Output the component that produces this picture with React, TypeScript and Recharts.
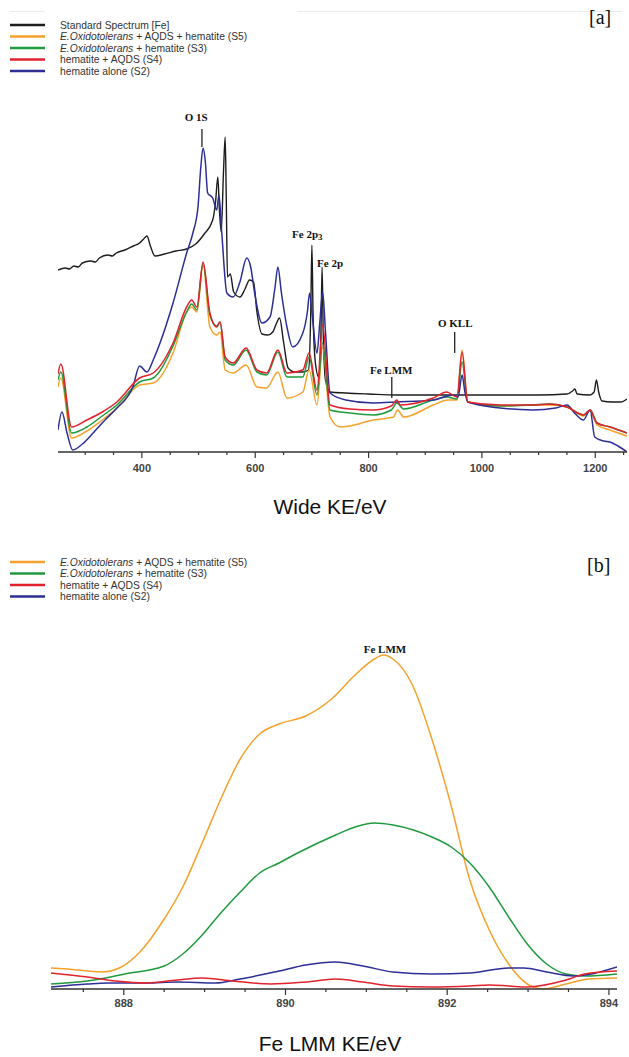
import { LineChart, Line, XAxis, YAxis, ReferenceLine, ReferenceDot } from "recharts";

// ---- panel [a]: wide scan, [KE eV, arbitrary units] ----
const wideStandard: [number, number][] = [
  [252, 182], [265, 184], [272, 183], [280, 186], [288, 185], [295, 189], [310, 191], [318, 190],
  [325, 194], [340, 197], [348, 196], [355, 199], [370, 202], [385, 206], [396, 209], [403, 213],
  [409, 216], [415, 206], [423, 196], [440, 198], [460, 201], [479, 203], [495, 208], [510, 218],
  [525, 232], [530, 250], [534, 275], [537, 240], [540, 220], [544, 280], [547, 315], [549, 250],
  [551, 175], [556, 178], [562, 160], [573, 155], [582, 163], [590, 172], [597, 170], [603, 140],
  [612, 118], [622, 117], [631, 120], [637, 128], [643, 134], [650, 110], [658, 84], [670, 80],
  [684, 80], [694, 82], [698, 140], [700, 207], [702, 140], [706, 90], [712, 75], [716, 120],
  [718, 185], [720, 120], [724, 72], [732, 60], [760, 59], [800, 58], [850, 57], [900, 57],
  [950, 57], [1000, 57], [1050, 57], [1100, 57], [1150, 58], [1160, 61], [1164, 63], [1168, 58],
  [1190, 57], [1198, 60], [1202, 72], [1206, 60], [1212, 51], [1230, 50], [1245, 50], [1256, 53],
];
const wideS5: [number, number][] = [
  [252, 65], [257, 74], [276, 14], [303, 21], [330, 32], [356, 44], [396, 67], [420, 69],
  [455, 99], [479, 140], [488, 145], [497, 140], [508, 187], [520, 125], [532, 117], [538, 120],
  [547, 82], [561, 79], [584, 87], [603, 65], [620, 64], [640, 80], [656, 54], [684, 60],
  [695, 82], [709, 47], [719, 105], [732, 35], [750, 25], [767, 26], [808, 32], [844, 35],
  [851, 42], [862, 35], [914, 47], [940, 52], [956, 52], [965, 102], [975, 50], [1032, 46],
  [1090, 47], [1120, 47], [1150, 45], [1179, 36], [1191, 41], [1203, 27], [1226, 22], [1256, 16],
];
const wideS3: [number, number][] = [
  [252, 72], [257, 80], [276, 19], [303, 25], [330, 36], [356, 47], [396, 70], [420, 74],
  [455, 106], [479, 140], [488, 148], [497, 142], [508, 189], [520, 137], [532, 126], [538, 130],
  [547, 92], [561, 87], [584, 102], [603, 80], [620, 77], [640, 100], [656, 75], [684, 75],
  [695, 95], [709, 57], [719, 109], [732, 42], [767, 39], [808, 37], [840, 42], [850, 49],
  [862, 43], [914, 52], [938, 55], [956, 53], [965, 90], [975, 50], [1032, 46], [1090, 47],
  [1120, 48], [1150, 45], [1179, 37], [1191, 42], [1203, 29], [1226, 25], [1256, 19],
];
const wideS4: [number, number][] = [
  [252, 78], [257, 88], [276, 25], [303, 32], [330, 40], [356, 50], [396, 74], [420, 79],
  [455, 109], [479, 145], [488, 152], [497, 145], [508, 190], [520, 139], [532, 125], [538, 130],
  [547, 95], [561, 89], [584, 104], [603, 82], [620, 79], [640, 102], [656, 79], [684, 82],
  [695, 99], [709, 62], [719, 127], [732, 47], [767, 43], [808, 42], [840, 46], [850, 52],
  [856, 47], [914, 54], [938, 60], [956, 55], [965, 100], [975, 50], [1032, 47], [1090, 47],
  [1120, 48], [1150, 45], [1179, 37], [1191, 42], [1203, 29], [1226, 25], [1256, 19],
];
const wideS2: [number, number][] = [
  [252, 22], [259, 40], [268, 19], [278, 2], [295, 8], [314, 19], [335, 32], [356, 44],
  [384, 65], [396, 86], [409, 80], [420, 92], [432, 109], [455, 149], [479, 199], [490, 219],
  [499, 245], [504, 285], [508, 304], [512, 290], [516, 259], [525, 254], [532, 242], [536, 257],
  [541, 219], [550, 159], [561, 155], [573, 170], [585, 194], [592, 185], [599, 159], [612, 129],
  [626, 135], [635, 165], [640, 185], [646, 160], [656, 125], [666, 105], [684, 119], [692, 140],
  [696, 159], [700, 140], [709, 99], [714, 130], [719, 160], [724, 120], [732, 59], [760, 52],
  [808, 49], [850, 50], [914, 52], [949, 57], [958, 55], [965, 77], [970, 60], [975, 50],
  [1032, 44], [1090, 42], [1130, 44], [1150, 47], [1165, 38], [1179, 32], [1191, 42], [1199, 15],
  [1215, 11], [1226, 10], [1240, 6], [1256, 0],
];
const wideTicks = [300, 350, 400, 450, 500, 550, 600, 650, 700, 750, 800, 850, 900, 950, 1000, 1050, 1100, 1150, 1200, 1250];
const wideTickLabels = [400, 600, 800, 1000, 1200];

// ---- panel [b]: Fe LMM region ----
const lmmS5: [number, number][] = [
  [887.1, 21], [887.3, 20], [887.73, 17], [887.97, 22], [888.2, 37], [888.5, 70], [888.73, 102],
  [888.97, 146], [889.2, 190], [889.44, 230], [889.68, 255], [889.92, 265], [890.25, 273],
  [890.57, 290], [890.86, 314], [891.1, 330], [891.21, 334], [891.33, 330], [891.57, 304],
  [891.81, 250], [892.05, 183], [892.28, 109], [892.52, 59], [892.76, 25], [892.99, 5],
  [893.18, 0], [893.47, 5], [893.75, 10], [894.1, 11],
];
const lmmS3: [number, number][] = [
  [887.1, 5], [887.55, 8], [888.01, 15], [888.5, 23], [888.73, 35], [888.97, 54], [889.2, 76],
  [889.44, 97], [889.68, 116], [889.92, 126], [890.15, 136], [890.62, 154], [890.86, 162],
  [891.1, 166], [891.33, 164], [891.81, 152], [892.05, 142], [892.28, 126], [892.52, 102],
  [892.76, 72], [892.99, 45], [893.23, 25], [893.47, 15], [893.7, 13], [894.1, 15],
];
const lmmS4: [number, number][] = [
  [887.1, 16], [887.55, 12], [887.9, 8], [888.28, 6], [888.66, 9], [888.97, 11], [889.35, 8],
  [889.82, 5], [890.25, 7], [890.62, 10], [890.96, 7], [891.33, 3], [891.81, 2], [892.28, 3],
  [892.52, 4], [892.76, 3], [892.99, 2], [893.47, 9], [893.7, 15], [894.1, 18],
];
const lmmS2: [number, number][] = [
  [887.1, 2], [887.55, 5], [887.8, 6], [888.28, 6], [888.66, 7], [889.13, 6], [889.44, 10],
  [889.92, 18], [890.25, 24], [890.62, 27], [890.96, 23], [891.33, 17], [891.81, 15],
  [892.28, 16], [892.76, 21], [892.95, 21], [893.23, 17], [893.56, 13], [894.1, 22],
];
const lmmTicks = [887.5, 888, 888.5, 889, 889.5, 890, 890.5, 891, 891.5, 892, 892.5, 893, 893.5, 894];
const lmmTickLabels = [888, 890, 892, 894];

const legendA = [
  { name: "Standard Spectrum [Fe]", color: "#1d1d1d" },
  { name: "E.Oxidotolerans|+ AQDS + hematite (S5)", color: "#f6a12b" },
  { name: "E.Oxidotolerans|+ hematite (S3)", color: "#1f9a3c" },
  { name: "hematite + AQDS (S4)", color: "#e2222d" },
  { name: "hematite alone (S2)", color: "#2d2f95" },
];
const legendB = legendA.slice(1);

const toPoints = (rows: [number, number][]) => rows.map(([ke, v]) => ({ ke, v }));

const AXIS = "#333";
const SANS = "'Liberation Sans', Arial, sans-serif";
const SERIF = "'Liberation Serif', 'Times New Roman', serif";

function KeTick(props: any) {
  const { x, y, payload, labels, labelDy } = props;
  const major = labels.includes(payload.value);
  return (
    <g>
      <line x1={x} x2={x} y1={y} y2={y + (major ? 6 : 3)} stroke={AXIS} strokeWidth={1.2} />
      {major && (
        <text x={x} y={y + labelDy} textAnchor="middle" fontSize={11} fontWeight={600} fill="#444" fontFamily={SANS}>
          {payload.value}
        </text>
      )}
    </g>
  );
}

function peakLabel(text: string, sub?: string) {
  return (props: any) => {
    const vb = props.viewBox || {};
    const cx = (vb.x ?? 0) + (vb.width ?? 0) / 2;
    const cy = (vb.y ?? 0) + (vb.height ?? 0) / 2;
    return (
      <text x={cx} y={cy + 4} textAnchor="middle" fontSize={11} fontWeight="bold" fontFamily={SERIF} fill="#111">
        {text}
        {sub && (
          <tspan dy={2} fontSize={9}>
            {sub}
          </tspan>
        )}
      </text>
    );
  };
}

function yTitle(x: number) {
  return (props: any) => {
    const vb = props.viewBox || {};
    const cy = (vb.y ?? 0) + (vb.height ?? 0) / 2 - 4;
    return (
      <text x={x} y={cy} transform={`rotate(-90, ${x}, ${cy})`} textAnchor="middle" fontSize={9} fill="#444" fontFamily={SANS}>
        arbitrary units
      </text>
    );
  };
}

function xTitle(text: string, y: number) {
  return () => (
    <text x={330} y={y} textAnchor="middle" fontSize={21} fill="#111" fontFamily={SANS}>
      {text}
    </text>
  );
}

function LegendBlock({ items, top }: { items: typeof legendA; top: number }) {
  return (
    <svg width={320} height={items.length * 11.5 + 10} style={{ position: "absolute", left: 0, top }}>
      {items.map((it, i) => {
        const cy = 5 + i * 11.5;
        const [ital, rest] = it.name.includes("|") ? it.name.split("|") : ["", it.name];
        return (
          <g key={it.name}>
            <line x1={10} x2={45} y1={cy} y2={cy} stroke={it.color} strokeWidth={2.5} />
            <text x={60} y={cy + 3.5} fontSize={10.3} fill="#333" fontFamily={SANS}>
              {ital && <tspan fontStyle="italic">{ital} </tspan>}
              {rest}
            </text>
          </g>
        );
      })}
    </svg>
  );
}

export default function App() {
  const lineProps = { type: "monotone" as const, dataKey: "v", dot: false, strokeWidth: 1.5, isAnimationActive: false };
  return (
    <div style={{ position: "absolute", left: 0, top: 0, width: 629, height: 1057, background: "#fff", overflow: "hidden" }}>
      <div style={{ position: "absolute", left: 10, top: 11, width: 35, height: 1, background: "#ececec" }} />
      <div style={{ position: "absolute", left: 297, top: 11, width: 325, height: 1, background: "#ececec" }} />
      <LegendBlock items={legendA} top={20} />
      <div style={{ position: "absolute", left: 589, top: 6, fontFamily: SERIF, fontSize: 20, color: "#111" }}>[a]</div>

      <div style={{ position: "absolute", left: 0, top: 0 }}>
        <LineChart width={629} height={530} margin={{ top: 87, right: 2, bottom: 48, left: 58 }}>
          <XAxis
            type="number"
            dataKey="ke"
            domain={[252, 1256]}
            allowDataOverflow
            ticks={wideTicks}
            interval={0}
            height={30}
            tickSize={0}
            tickMargin={0}
            tickLine={false}
            stroke={AXIS}
            strokeWidth={1.5}
            tick={(p: any) => <KeTick {...p} labels={wideTickLabels} labelDy={20} />}
            label={xTitle("Wide KE/eV", 514)}
          />
          <YAxis
            type="number"
            domain={[0, 365]}
            allowDataOverflow
            ticks={[365]}
            width={0}
            tick={false}
            tickSize={5}
            stroke={AXIS}
            strokeWidth={1.5}
            label={yTitle(47)}
          />
          <Line {...lineProps} data={toPoints(wideStandard)} stroke="#1d1d1d" strokeWidth={1.4} />
          <Line {...lineProps} data={toPoints(wideS5)} stroke="#f6a12b" />
          <Line {...lineProps} data={toPoints(wideS3)} stroke="#1f9a3c" />
          <Line {...lineProps} data={toPoints(wideS2)} stroke="#2d2f95" />
          <Line {...lineProps} data={toPoints(wideS4)} stroke="#e2222d" />
          <ReferenceLine segment={[{ x: 506, y: 305 }, { x: 506, y: 323 }]} stroke="#111" strokeWidth={1.2} />
          <ReferenceLine segment={[{ x: 841, y: 54 }, { x: 841, y: 75 }]} stroke="#111" strokeWidth={1.2} />
          <ReferenceLine segment={[{ x: 952, y: 99 }, { x: 952, y: 120 }]} stroke="#111" strokeWidth={1.2} />
          <ReferenceDot x={496} y={335} r={0} fill="none" stroke="none" label={peakLabel("O 1S")} />
          <ReferenceDot x={692} y={218} r={0} fill="none" stroke="none" label={peakLabel("Fe 2p", "3")} />
          <ReferenceDot x={732} y={189} r={0} fill="none" stroke="none" label={peakLabel("Fe 2p")} />
          <ReferenceDot x={840} y={82} r={0} fill="none" stroke="none" label={peakLabel("Fe LMM")} />
          <ReferenceDot x={953} y={129} r={0} fill="none" stroke="none" label={peakLabel("O KLL")} />
        </LineChart>
      </div>

      <LegendBlock items={legendB} top={557} />
      <div style={{ position: "absolute", left: 587, top: 554, fontFamily: SERIF, fontSize: 20, color: "#111" }}>[b]</div>

      <div style={{ position: "absolute", left: 0, top: 540 }}>
        <LineChart width={629} height={517} margin={{ top: 74, right: 12, bottom: 38, left: 51 }}>
          <XAxis
            type="number"
            dataKey="ke"
            domain={[887.1, 894.1]}
            allowDataOverflow
            ticks={lmmTicks}
            interval={0}
            height={30}
            tickSize={0}
            tickMargin={0}
            tickLine={false}
            stroke={AXIS}
            strokeWidth={1.5}
            tick={(p: any) => <KeTick {...p} labels={lmmTickLabels} labelDy={18} />}
            label={xTitle("Fe LMM KE/eV", 511)}
          />
          <YAxis
            type="number"
            domain={[0, 375]}
            allowDataOverflow
            ticks={[187, 375]}
            width={0}
            tick={false}
            tickSize={5}
            stroke={AXIS}
            strokeWidth={1.5}
            label={yTitle(40)}
          />
          <Line {...lineProps} data={toPoints(lmmS5)} stroke="#f6a12b" />
          <Line {...lineProps} data={toPoints(lmmS3)} stroke="#1f9a3c" />
          <Line {...lineProps} data={toPoints(lmmS2)} stroke="#2d2f95" />
          <Line {...lineProps} data={toPoints(lmmS4)} stroke="#e2222d" />
          <ReferenceDot x={891.23} y={340} r={0} fill="none" stroke="none" label={peakLabel("Fe LMM")} />
        </LineChart>
      </div>
    </div>
  );
}
